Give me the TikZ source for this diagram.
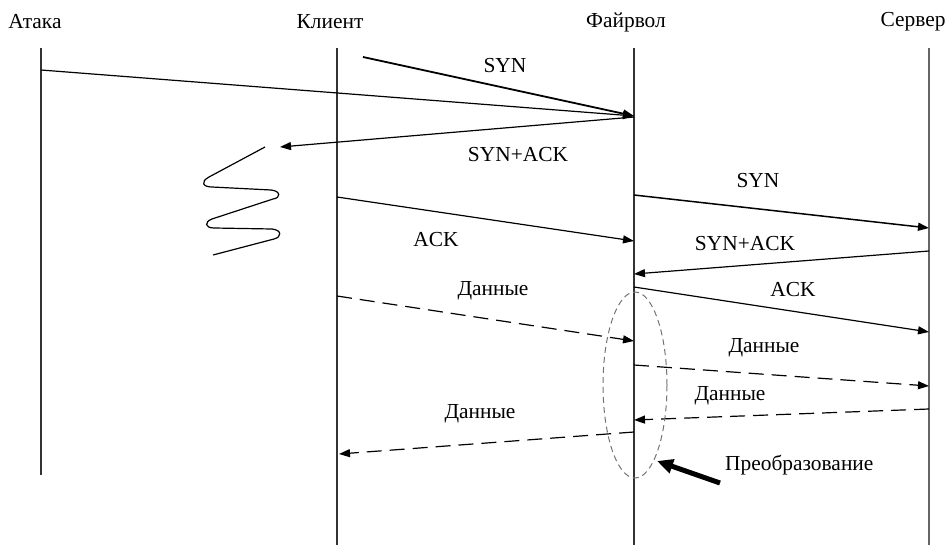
\documentclass[tikz,border=0pt]{standalone}
\usepackage{fontspec}
\setmainfont{Liberation Serif}
\usetikzlibrary{arrows.meta,shapes.geometric}
\begin{document}
\begin{tikzpicture}[x=1pt,y=-1pt,
  lifeline/.style={line width=1.5pt, draw=black!80},
  msg/.style={line width=1.2pt, -{Triangle[length=11pt,width=8pt]}},
  datamsg/.style={msg, dash pattern=on 15pt off 8pt},
  lbl/.style={font=\fontsize{21.4}{24}\selectfont, inner sep=0pt},
  bigarrow/.style={line width=5pt, -{Triangle[length=16pt,width=14pt]}},
  ]
\useasboundingbox (0,0) rectangle (946,554);

% participants
\node[lbl] (atk) at (35,22) {Атака};
\node[lbl] (cli) at (330,22) {Клиент};
\node[lbl] (fw)  at (626,22) {Файрвол};
\node[lbl] (srv) at (913,22) {Сервер};

% lifelines
\coordinate (a1) at (41,48);  \coordinate (a2) at (41,475);
\coordinate (c1) at (337,48); \coordinate (c2) at (337,545);
\coordinate (f1) at (634,48); \coordinate (f2) at (634,545);
\coordinate (s1) at (929,48); \coordinate (s2) at (929,545);
\draw[lifeline] (a1) -- (a2);
\draw[lifeline] (c1) -- (c2);
\draw[lifeline] (f1) -- (f2);
\draw[lifeline, draw=black!60] (s1) -- (s2);

% attack and client SYN towards the firewall
\coordinate (atkS) at (41,70);
\coordinate (cSyn) at (363,57);
\coordinate (fwIn) at (634,116);
\draw[msg] (atkS) -- (fwIn);
\draw[msg, line width=1.8pt] (cSyn) -- (fwIn);
\node[lbl] (l1) at (505,66) {SYN};

% SYN+ACK sent back towards the attacker
\coordinate (fwOut) at (634,117);
\coordinate (saEnd) at (280,147);
\draw[msg] (fwOut) -- (saEnd);
\node[lbl] (l2) at (518,155) {SYN+ACK};

% lost reply
\draw[line width=1.2pt]
  (265,147) -- (209,177) .. controls (200,182) and (203,187) .. (212,187)
  -- (271,190) .. controls (281,191) and (281,198) .. (273,199)
  -- (212,219) .. controls (204,222) and (205,228) .. (214,228)
  -- (272,229) .. controls (282,230) and (282,237) .. (274,239)
  -- (213,255);

% client ACK
\coordinate (cAck) at (337,197);
\coordinate (fAck) at (634,241);
\draw[msg] (cAck) -- (fAck);
\node[lbl] (l3) at (436,240) {ACK};

% firewall to server handshake
\coordinate (fSyn) at (634,195);
\coordinate (sSyn) at (929,228);
\draw[msg, line width=1.5pt] (fSyn) -- (sSyn);
\node[lbl] (l4) at (758,181) {SYN};

\coordinate (sSa) at (929,251);
\coordinate (fSa) at (634,274);
\draw[msg] (sSa) -- (fSa);
\node[lbl] (l5) at (745,244) {SYN+ACK};

\coordinate (fAck2) at (634,287);
\coordinate (sAck2) at (929,332);
\draw[msg] (fAck2) -- (sAck2);
\node[lbl] (l6) at (793,290) {ACK};

% data exchange
\coordinate (cD1) at (337,296);
\coordinate (fD1) at (634,341);
\draw[datamsg] (cD1) -- (fD1);
\node[lbl] (l7) at (493,291) {Данные};

\coordinate (fD2) at (634,365);
\coordinate (sD2) at (929,386);
\draw[datamsg] (fD2) -- (sD2);
\node[lbl] (l8) at (764,348) {Данные};

\coordinate (sD3) at (929,409);
\coordinate (fD3) at (634,420);
\draw[datamsg] (sD3) -- (fD3);
\node[lbl] (l9) at (730,396) {Данные};

\coordinate (fD4) at (634,432);
\coordinate (cD4) at (339,454);
\draw[datamsg] (fD4) -- (cD4);
\node[lbl] (l10) at (480,414) {Данные};

% translation zone at the firewall
\node[ellipse, draw=black!55, line width=1pt, dash pattern=on 6pt off 4pt,
      minimum width=64pt, minimum height=186pt, inner sep=0pt] (tr) at (635,385) {};
\node[lbl, anchor=west] (ltr) at (725,465) {Преобразование};
\coordinate (trS) at (720,483);
\coordinate (trE) at (657,461);
\draw[bigarrow] (trS) -- (trE);
\end{tikzpicture}
\end{document}
